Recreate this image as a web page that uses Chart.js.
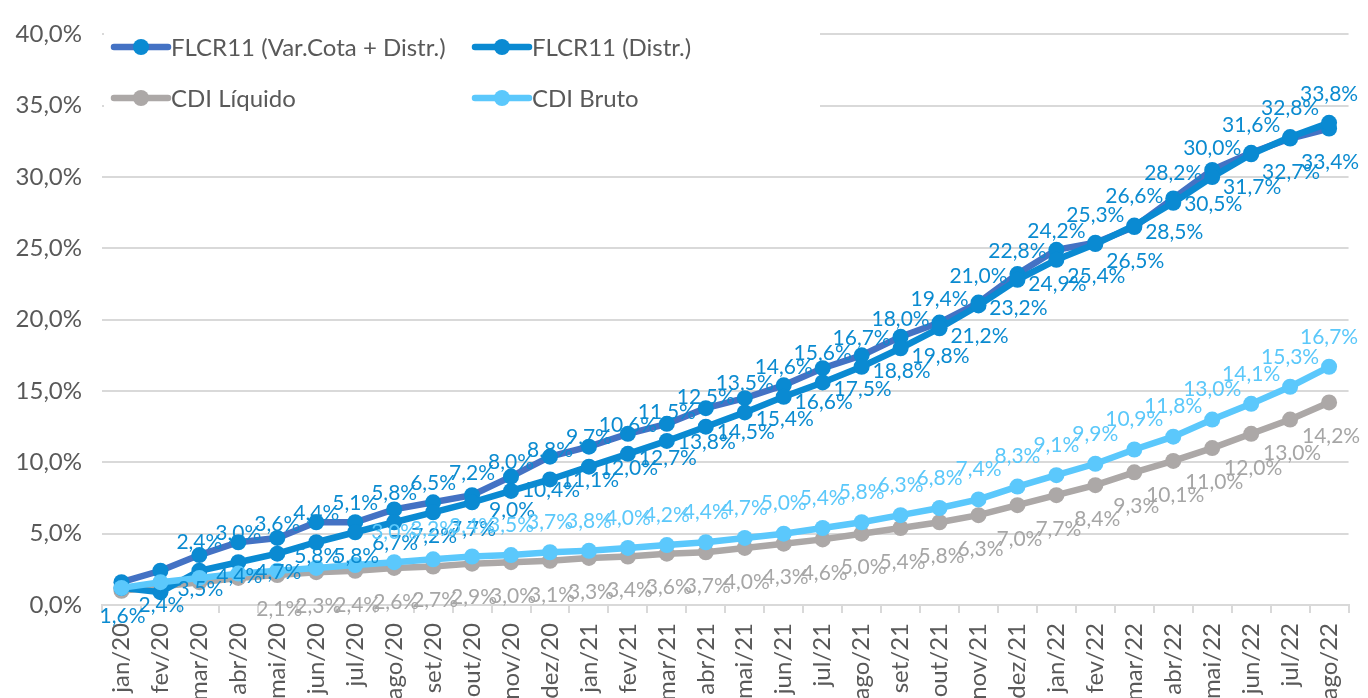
<!DOCTYPE html>
<html>
<head>
<meta charset="utf-8">
<script src="https://cdn.jsdelivr.net/npm/chart.js@4.4.1/dist/chart.umd.min.js"></script>
<style>
  html, body { margin: 0; padding: 0; background: #fff; overflow: hidden; }
  #wrap { width: 1368px; height: 698px; }
</style>
</head>
<body>
<div id="wrap"><canvas id="lineChart" width="1368" height="698"></canvas></div>
<script>
const months = ['jan/20', 'fev/20', 'mar/20', 'abr/20', 'mai/20', 'jun/20', 'jul/20', 'ago/20', 'set/20', 'out/20', 'nov/20', 'dez/20',
    'jan/21', 'fev/21', 'mar/21', 'abr/21', 'mai/21', 'jun/21', 'jul/21', 'ago/21', 'set/21', 'out/21', 'nov/21', 'dez/21',
    'jan/22', 'fev/22', 'mar/22', 'abr/22', 'mai/22', 'jun/22', 'jul/22', 'ago/22'];

const varCotaDistr = [1.6, 2.4, 3.5, 4.4, 4.7, 5.8, 5.8, 6.7, 7.2, 7.7, 9.0, 10.4,
    11.1, 12.0, 12.7, 13.8, 14.5, 15.4, 16.6, 17.5, 18.8, 19.8, 21.2, 23.2,
    24.9, 25.4, 26.5, 28.5, 30.5, 31.7, 32.7, 33.4];
const distr = [1.2, 0.9, 2.4, 3.0, 3.6, 4.4, 5.1, 5.8, 6.5, 7.2, 8.0, 8.8,
    9.7, 10.6, 11.5, 12.5, 13.5, 14.6, 15.6, 16.7, 18.0, 19.4, 21.0, 22.8,
    24.2, 25.3, 26.6, 28.2, 30.0, 31.6, 32.8, 33.8];
const cdiLiquido = [1.0, 1.3, 1.6, 1.9, 2.1, 2.3, 2.4, 2.6, 2.7, 2.9, 3.0, 3.1,
    3.3, 3.4, 3.6, 3.7, 4.0, 4.3, 4.6, 5.0, 5.4, 5.8, 6.3, 7.0,
    7.7, 8.4, 9.3, 10.1, 11.0, 12.0, 13.0, 14.2];
const cdiBruto = [1.2, 1.6, 1.9, 2.2, 2.4, 2.6, 2.8, 3.0, 3.2, 3.4, 3.5, 3.7,
    3.8, 4.0, 4.2, 4.4, 4.7, 5.0, 5.4, 5.8, 6.3, 6.8, 7.4, 8.3,
    9.1, 9.9, 10.9, 11.8, 13.0, 14.1, 15.3, 16.7];

const yTicks = [0, 5, 10, 15, 20, 25, 30, 35, 40];

const FONT = 'Lato';
const pct = v => v.toFixed(1).replace('.', ',') + '%';

// point labels drawn by hand (no datalabels plugin offline)
const pointLabels = {
    id: 'pointLabels',
    afterDatasetsDraw(chart) {
        const ctx = chart.ctx;
        ctx.save();
        ctx.font = '21px ' + FONT;
        ctx.textAlign = 'center';
        ctx.textBaseline = 'middle';
        chart.data.datasets.forEach((ds, i) => {
            const meta = chart.getDatasetMeta(i);
            ctx.fillStyle = ds.labelColor;
            meta.data.forEach((pt, j) => {
                if (j < ds.labelFrom) return;
                ctx.fillText(pct(ds.data[j]), pt.x + ds.labelDx, pt.y + ds.labelDy);
            });
        });
        ctx.restore();
    }
};

// legend sits inside the plot on a white box, two columns
const boxLegend = {
    id: 'boxLegend',
    beforeDatasetsDraw(chart) {
        const ctx = chart.ctx;
        ctx.save();
        ctx.fillStyle = '#ffffff';
        ctx.fillRect(chart.chartArea.left + 2, 12, 716, 108);
        const items = [
            { ds: 0, x: 114, y: 47 },
            { ds: 1, x: 475, y: 47 },
            { ds: 2, x: 114, y: 98 },
            { ds: 3, x: 475, y: 98 }
        ];
        ctx.font = '24px ' + FONT;
        ctx.textBaseline = 'middle';
        items.forEach(it => {
            const ds = chart.data.datasets[it.ds];
            ctx.strokeStyle = ds.borderColor;
            ctx.lineWidth = ds.borderWidth;
            ctx.lineCap = 'round';
            ctx.beginPath();
            ctx.moveTo(it.x, it.y);
            ctx.lineTo(it.x + 54, it.y);
            ctx.stroke();
            ctx.fillStyle = ds.pointBackgroundColor;
            ctx.beginPath();
            ctx.arc(it.x + 27, it.y, 8, 0, Math.PI * 2);
            ctx.fill();
            ctx.fillStyle = '#595959';
            ctx.fillText(ds.label, it.x + 57, it.y + 1);
        });
        ctx.restore();
    }
};

const ctx = document.getElementById('lineChart').getContext('2d');
const chart = new Chart(ctx, {
    type: 'line',
    data: {
        labels: months,
        datasets: [{
            label: 'FLCR11 (Var.Cota + Distr.)',
            data: varCotaDistr,
            borderColor: '#4472C4',
            pointBackgroundColor: '#0A8AD2',
            pointBorderColor: '#0A8AD2',
            labelColor: '#0B8BD0',
            labelDx: 1, labelDy: 34, labelFrom: 0,
            order: 2
        }, {
            label: 'FLCR11 (Distr.)',
            data: distr,
            borderColor: '#0A8AD2',
            pointBackgroundColor: '#0A8AD2',
            pointBorderColor: '#0A8AD2',
            labelColor: '#0B8BD0',
            labelDx: 0, labelDy: -29, labelFrom: 2,
            order: 1
        }, {
            label: 'CDI Líquido',
            data: cdiLiquido,
            borderColor: '#ACA8A7',
            pointBackgroundColor: '#ACA8A7',
            pointBorderColor: '#ACA8A7',
            labelColor: '#A6A6A6',
            labelDx: 2, labelDy: 34, labelFrom: 4,
            order: 3
        }, {
            label: 'CDI Bruto',
            data: cdiBruto,
            borderColor: '#5BC8FC',
            pointBackgroundColor: '#5BC8FC',
            pointBorderColor: '#5BC8FC',
            labelColor: '#5BC8FA',
            labelDx: 0, labelDy: -30, labelFrom: 7,
            order: 0
        }].map(d => Object.assign({
            borderWidth: 6.5,
            pointRadius: 8,
            pointBorderWidth: 0,
            tension: 0,
            fill: false
        }, d))
    },
    options: {
        responsive: false,
        animation: false,
        devicePixelRatio: 1,
        layout: { padding: { top: 27, right: 8, left: 0, bottom: 0 } },
        plugins: {
            legend: { display: false },
            tooltip: { enabled: false }
        },
        scales: {
            x: {
                offset: true,
                grid: {
                    offset: true,
                    drawOnChartArea: false,
                    drawTicks: true,
                    tickLength: 8,
                    color: '#d9d9d9',
                    lineWidth: 2
                },
                border: { color: '#d9d9d9', width: 2 },
                ticks: {
                    autoSkip: false,
                    minRotation: 90,
                    maxRotation: 90,
                    padding: 10,
                    color: '#595959',
                    font: { family: FONT, size: 24 }
                },
                afterFit(scale) { scale.height = 93; }
            },
            y: {
                min: yTicks[0],
                max: yTicks[yTicks.length - 1],
                afterBuildTicks(scale) { scale.ticks = yTicks.map(v => ({ value: v })); },
                grid: { color: '#d9d9d9', lineWidth: 2, drawTicks: false },
                border: { display: false },
                ticks: {
                    padding: 20,
                    color: '#595959',
                    font: { family: FONT, size: 24 },
                    callback: v => pct(v)
                },
                afterFit(scale) { scale.width = 102; }
            }
        }
    },
    plugins: [boxLegend, pointLabels]
});
</script>
</body>
</html>
